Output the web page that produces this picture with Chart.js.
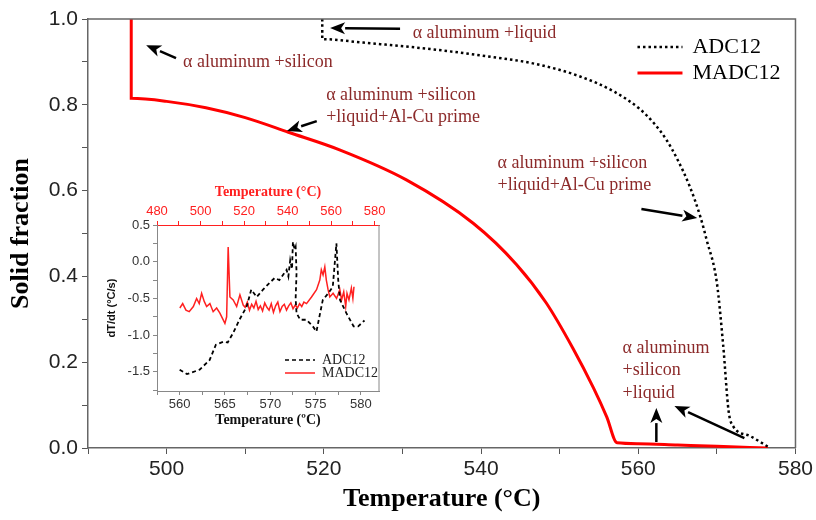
<!DOCTYPE html>
<html>
<head>
<meta charset="utf-8">
<script src="https://cdn.jsdelivr.net/npm/chart.js@4.4.0/dist/chart.umd.min.js"></script>
<style>
  body { margin: 0; background: #fff; }
  #wrap { position: relative; width: 816px; height: 520px; }
  #main { position: absolute; left: 0; top: 0; }
  #inset { position: absolute; left: 100px; top: 180px; }
</style>
</head>
<body>
<div id="wrap">
  <canvas id="main" width="816" height="520"></canvas>
  <canvas id="inset" width="290" height="255"></canvas>
</div>
<script>
// solid fraction vs temperature (main plot)
const adcTemp = [519.8, 519.8, 525, 533.5, 540, 547, 552.6, 557, 560.2, 562, 563.6, 565, 566.5, 567.9, 568.7, 570, 570.8, 571.5, 572.1, 574.2, 576.5];
const adcFrac = [1.0, 0.953, 0.945, 0.93, 0.915, 0.895, 0.866, 0.83, 0.79, 0.757, 0.718, 0.672, 0.612, 0.539, 0.485, 0.385, 0.24, 0.085, 0.05, 0.028, 0.003];
const madcTemp = [495.5, 495.5, 500, 505, 510, 515.5, 522, 530.5, 539, 544.5, 548.3, 551.7, 554.3, 556, 557.3, 560, 565, 570, 576.5];
const madcFrac = [1.0, 0.815, 0.808, 0.793, 0.77, 0.736, 0.695, 0.625, 0.524, 0.428, 0.338, 0.232, 0.14, 0.072, 0.012, 0.010, 0.007, 0.004, 0.0];

// inset: cooling rate curves (ADC12 on bottom axis, MADC12 on top axis)
const adcDtTemp = [560, 560.8, 562.2, 563.3, 564.0, 564.8, 565.3, 565.9, 566.6, 567.4, 567.9, 568.5, 569.2, 569.9, 570.5, 571.0, 571.4, 571.8, 572.0, 572.2, 572.4, 572.5, 572.7, 572.8, 572.9, 572.8, 572.9, 573.3, 574.0, 574.7, 575.1, 575.5, 575.8, 576.4, 576.9, 577.3, 577.5, 577.7, 578.4, 579.2, 579.7, 580.4];
const adcDtVal = [-1.47, -1.53, -1.47, -1.34, -1.13, -1.09, -1.10, -0.97, -0.79, -0.61, -0.38, -0.48, -0.38, -0.29, -0.22, -0.25, -0.18, -0.11, -0.2, 0.02, -0.1, 0.27, 0.16, 0.2, -0.15, -0.5, -0.7, -0.79, -0.79, -0.88, -0.95, -0.70, -0.52, -0.43, -0.34, 0.25, -0.25, -0.52, -0.70, -0.88, -0.88, -0.80];
const madcDtTemp = [490.5, 491.8, 493.3, 494.8, 496.7, 498.2, 499.4, 500.5, 501.7, 502.8, 504.3, 505.8, 507.4, 508.9, 511.2, 512.0, 512.7, 513.5, 515.0, 516.6, 518.1, 519.6,
  520.5, 521.5, 522.5, 523.5, 524.5, 525.5, 526.5, 527.5, 528.5, 529.5, 530.5, 531.5, 532.5, 533.5, 534.5, 535.5, 536.5, 537.5, 538.5, 539.5, 540.5, 541.5, 542.5, 543.5, 544.5, 545.5, 546.5, 547.5, 548.7,
  551.0, 553.3, 554.8, 555.5, 556.3, 557.1, 557.8, 558.6, 559.4, 560.9, 562.5, 564.0, 564.8, 565.8, 566.7, 567.3, 568.2, 569.3, 570.0, 570.5];
const madcDtVal = [-0.63, -0.57, -0.66, -0.68, -0.61, -0.50, -0.57, -0.43, -0.54, -0.61, -0.57, -0.68, -0.63, -0.70, -0.84, -0.75, 0.20, -0.48, -0.52, -0.61, -0.45, -0.59,
  -0.62, -0.55, -0.66, -0.58, -0.63, -0.54, -0.65, -0.60, -0.67, -0.56, -0.62, -0.66, -0.57, -0.69, -0.60, -0.55, -0.68, -0.61, -0.58, -0.66, -0.60, -0.56, -0.64, -0.59, -0.63, -0.57, -0.61, -0.55, -0.57,
  -0.48, -0.38, -0.25, -0.11, -0.18, -0.07, -0.25, -0.38, -0.48, -0.43, -0.50, -0.38, -0.52, -0.41, -0.61, -0.43, -0.52, -0.36, -0.50, -0.34];

const noteColor = '#8c2a2a';
const notes = [
  { lines: ['α aluminum +silicon'], x: 502.1, y: 0.900, from: [501.2, 0.909], to: [497.4, 0.939] },
  { lines: ['α aluminum +liquid'], x: 531.3, y: 0.967, from: [529.7, 0.977], to: [520.8, 0.979] },
  { lines: ['α aluminum +silicon', '+liquid+Al-Cu prime'], x: 520.3, y: 0.823, from: [519.1, 0.762], to: [515.3, 0.739] },
  { lines: ['α aluminum +silicon', '+liquid+Al-Cu prime'], x: 542.1, y: 0.664, from: [560.4, 0.557], to: [567.5, 0.536] },
  { lines: ['α aluminum', '+silicon', '+liquid'], x: 558.0, y: 0.233, from: [562.3, 0.014], to: [562.3, 0.093] },
  { lines: [], x: 0, y: 0, from: [573.5, 0.023], to: [564.6, 0.098] }
];

function toXY(xs, ys) {
  return xs.map((t, i) => ({ x: t, y: ys[i] }));
}

function arrow(ctx, x1, y1, x2, y2) {
  const a = Math.atan2(y2 - y1, x2 - x1), hl = 15, hw = 6;
  const bx = x2 - hl * Math.cos(a), by = y2 - hl * Math.sin(a);
  ctx.beginPath();
  ctx.moveTo(x1, y1);
  ctx.lineTo(bx, by);
  ctx.lineWidth = 2.5;
  ctx.stroke();
  ctx.beginPath();
  ctx.moveTo(x2, y2);
  ctx.lineTo(bx - hw * Math.sin(a), by + hw * Math.cos(a));
  ctx.lineTo(bx + 4 * Math.cos(a), by + 4 * Math.sin(a));
  ctx.lineTo(bx + hw * Math.sin(a), by - hw * Math.cos(a));
  ctx.closePath();
  ctx.fill();
}

const mainExtras = {
  id: 'mainExtras',
  afterDraw(chart) {
    const { ctx, chartArea: ca, scales } = chart;
    const xs = scales.x, ys = scales.y;
    ctx.save();
    // top and right frame
    ctx.strokeStyle = '#666';
    ctx.lineWidth = 1.5;
    ctx.beginPath();
    ctx.moveTo(ca.left, ca.top);
    ctx.lineTo(ca.right, ca.top);
    ctx.lineTo(ca.right, ca.bottom);
    ctx.stroke();

    // annotations
    ctx.font = '18px "Liberation Serif"';
    ctx.textBaseline = 'middle';
    ctx.textAlign = 'left';
    notes.forEach(n => {
      ctx.fillStyle = noteColor;
      n.lines.forEach((l, i) => {
        ctx.fillText(l, xs.getPixelForValue(n.x), ys.getPixelForValue(n.y) + i * 22.5);
      });
      ctx.fillStyle = '#000';
      ctx.strokeStyle = '#000';
      arrow(ctx, xs.getPixelForValue(n.from[0]), ys.getPixelForValue(n.from[1]),
        xs.getPixelForValue(n.to[0]), ys.getPixelForValue(n.to[1]));
    });

    // legend
    const lx0 = ca.right - 158, lx1 = ca.right - 113;
    ctx.font = '22px "Liberation Serif"';
    ctx.fillStyle = '#000';
    ctx.strokeStyle = '#000';
    ctx.lineWidth = 2.5;
    ctx.setLineDash([2.5, 3]);
    ctx.beginPath();
    ctx.moveTo(lx0, ca.top + 28);
    ctx.lineTo(lx1, ca.top + 28);
    ctx.stroke();
    ctx.setLineDash([]);
    ctx.fillText('ADC12', ca.right - 103, ca.top + 28);
    ctx.strokeStyle = '#ff0000';
    ctx.lineWidth = 3;
    ctx.beginPath();
    ctx.moveTo(lx0, ca.top + 54);
    ctx.lineTo(lx1, ca.top + 54);
    ctx.stroke();
    ctx.fillText('MADC12', ca.right - 103, ca.top + 54);
    ctx.restore();
  }
};

new Chart(document.getElementById('main'), {
  type: 'line',
  data: {
    datasets: [
      {
        label: 'ADC12',
        data: toXY(adcTemp, adcFrac),
        borderColor: '#000',
        borderWidth: 2.5,
        borderDash: [2.5, 3],
        pointRadius: 0,
        cubicInterpolationMode: 'monotone'
      },
      {
        label: 'MADC12',
        data: toXY(madcTemp, madcFrac),
        borderColor: '#ff0000',
        borderWidth: 3,
        pointRadius: 0,
        cubicInterpolationMode: 'monotone'
      }
    ]
  },
  options: {
    responsive: false,
    animation: false,
    layout: { padding: { left: 0, right: 20, top: 19, bottom: 0 } },
    plugins: { legend: { display: false }, tooltip: { enabled: false } },
    scales: {
      x: {
        type: 'linear',
        min: 490,
        max: 580,
        ticks: {
          stepSize: 10,
          autoSkip: false,
          maxRotation: 0,
          color: '#222',
          padding: 3,
          font: { family: 'Liberation Sans', size: 21 },
          callback: v => (v % 20 === 0 ? v : '')
        },
        grid: { drawOnChartArea: false, tickLength: 6, color: '#555' },
        border: { color: '#666', width: 1.5 },
        title: {
          display: true,
          text: 'Temperature (°C)',
          color: '#000',
          font: { family: 'Liberation Serif', size: 26, weight: 'bold' },
          padding: { top: 0, bottom: 5 }
        },
        afterFit: s => { s.height = 72; }
      },
      y: {
        min: 0,
        max: 1,
        ticks: {
          stepSize: 0.1,
          autoSkip: false,
          color: '#222',
          padding: 4,
          font: { family: 'Liberation Sans', size: 21 },
          callback: v => (Math.round(v * 10) % 2 === 0 ? v.toFixed(1) : '')
        },
        grid: { drawOnChartArea: false, tickLength: 6, color: '#555' },
        border: { color: '#666', width: 1.5 },
        title: {
          display: true,
          text: 'Solid fraction',
          color: '#000',
          font: { family: 'Liberation Serif', size: 26, weight: 'bold' },
          padding: { top: 6, bottom: 0 }
        },
        afterFit: s => { s.width = 88; }
      }
    }
  },
  plugins: [mainExtras]
});

const insetExtras = {
  id: 'insetExtras',
  afterDraw(chart) {
    const { ctx, chartArea: ca } = chart;
    ctx.save();
    ctx.strokeStyle = '#888';
    ctx.lineWidth = 1;
    ctx.beginPath();
    ctx.moveTo(ca.right, ca.top);
    ctx.lineTo(ca.right, ca.bottom);
    ctx.stroke();

    const lx0 = ca.right - 94, lx1 = ca.right - 64;
    ctx.font = '14px "Liberation Serif"';
    ctx.textBaseline = 'middle';
    ctx.fillStyle = '#222';
    ctx.strokeStyle = '#000';
    ctx.lineWidth = 1.6;
    ctx.setLineDash([4, 3]);
    ctx.beginPath();
    ctx.moveTo(lx0, ca.bottom - 31);
    ctx.lineTo(lx1, ca.bottom - 31);
    ctx.stroke();
    ctx.setLineDash([]);
    ctx.fillText('ADC12', ca.right - 57, ca.bottom - 31);
    ctx.strokeStyle = '#ff2020';
    ctx.lineWidth = 1.5;
    ctx.beginPath();
    ctx.moveTo(lx0, ca.bottom - 18);
    ctx.lineTo(lx1, ca.bottom - 18);
    ctx.stroke();
    ctx.fillText('MADC12', ca.right - 57, ca.bottom - 18);
    ctx.restore();
  }
};

const isHalf = v => Math.abs(v * 2 - Math.round(v * 2)) < 1e-6;

new Chart(document.getElementById('inset'), {
  type: 'line',
  data: {
    datasets: [
      {
        label: 'ADC12',
        data: toXY(adcDtTemp, adcDtVal),
        xAxisID: 'x',
        borderColor: '#000',
        borderWidth: 1.8,
        borderDash: [4, 3],
        pointRadius: 0
      },
      {
        label: 'MADC12',
        data: toXY(madcDtTemp, madcDtVal),
        xAxisID: 'x2',
        borderColor: '#ff2020',
        borderWidth: 1.5,
        pointRadius: 0
      }
    ]
  },
  options: {
    responsive: false,
    animation: false,
    layout: { padding: { left: 0, right: 11, top: 0, bottom: 0 } },
    plugins: { legend: { display: false }, tooltip: { enabled: false } },
    scales: {
      x: {
        type: 'linear',
        position: 'bottom',
        min: 557.5,
        max: 582,
        ticks: {
          stepSize: 2.5,
          includeBounds: false,
          autoSkip: false,
          maxRotation: 0,
          color: '#333',
          padding: 2,
          font: { family: 'Liberation Sans', size: 13 },
          callback: v => (v % 5 === 0 ? v : '')
        },
        grid: { drawOnChartArea: false, tickLength: 4, color: '#888' },
        border: { color: '#888' },
        title: {
          display: true,
          text: 'Temperature (ºC)',
          color: '#111',
          font: { family: 'Liberation Serif', size: 14, weight: 'bold' },
          padding: { top: 0, bottom: 6 }
        },
        afterFit: s => { s.height = 44; }
      },
      x2: {
        type: 'linear',
        position: 'top',
        min: 480,
        max: 582,
        ticks: {
          stepSize: 10,
          includeBounds: false,
          autoSkip: false,
          maxRotation: 0,
          color: '#ff2020',
          padding: 2,
          font: { family: 'Liberation Sans', size: 13 },
          callback: v => (v % 20 === 0 ? v : '')
        },
        grid: { drawOnChartArea: false, tickLength: 4, color: '#ff2020' },
        border: { color: '#ff2020' },
        title: {
          display: true,
          text: 'Temperature (°C)',
          color: '#ff2020',
          font: { family: 'Liberation Serif', size: 14, weight: 'bold' },
          padding: { top: 4, bottom: 0 }
        },
        afterFit: s => { s.height = 45; }
      },
      y: {
        min: -1.76,
        max: 0.5,
        ticks: {
          stepSize: 0.25,
          includeBounds: false,
          autoSkip: false,
          color: '#333',
          padding: 3,
          font: { family: 'Liberation Sans', size: 13 },
          callback: v => (isHalf(v) ? v.toFixed(1) : '')
        },
        grid: { drawOnChartArea: false, tickLength: 4, color: '#888' },
        border: { color: '#888' },
        title: {
          display: true,
          text: 'dT/dt (°C/s)',
          color: '#111',
          font: { family: 'Liberation Sans', size: 11, weight: 'bold' },
          padding: { top: 5, bottom: 0 }
        },
        afterFit: s => { s.width = 57; }
      }
    }
  },
  plugins: [insetExtras]
});
</script>
</body>
</html>
